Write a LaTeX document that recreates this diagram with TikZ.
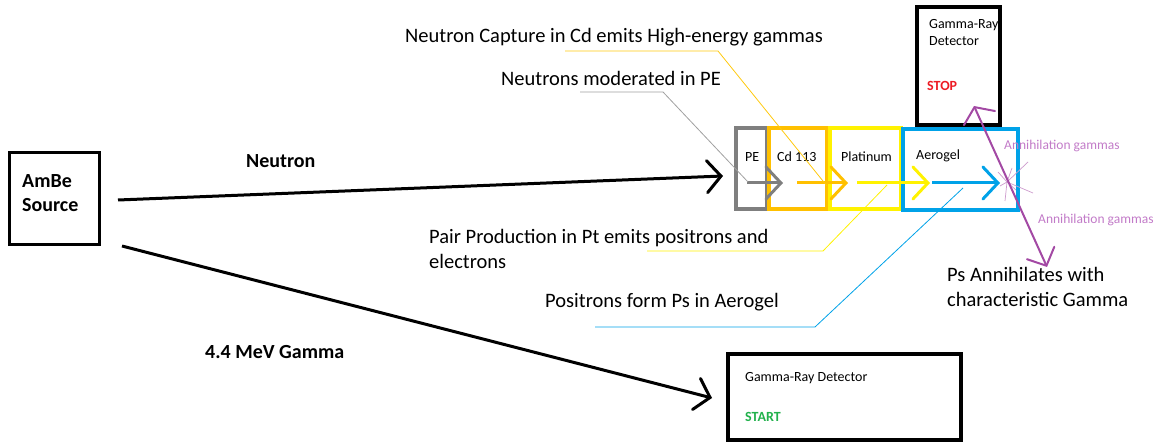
\documentclass[tikz,border=0pt]{standalone}
\usepackage{fontspec}
\setmainfont{Carlito}
\usetikzlibrary{arrows.meta}
\definecolor{pegray}{HTML}{7F7F7F}
\definecolor{cdorange}{HTML}{FFC000}
\definecolor{ptyellow}{HTML}{FFF200}
\definecolor{aeroblue}{HTML}{00A2E8}
\definecolor{psviolet}{HTML}{A349A4}
\definecolor{annviolet}{HTML}{C27BC8}
\definecolor{stopred}{HTML}{ED1C24}
\definecolor{startgreen}{HTML}{22B14C}
\definecolor{leadgray}{HTML}{A0A0A0}
\definecolor{leadorange}{HTML}{FFC90E}
\tikzset{
  boxnode/.style={draw, rectangle, inner sep=0pt, outer sep=0pt},
  bigtext/.style={inner sep=0pt, anchor=west, font=\fontsize{20.5}{25}\selectfont, align=left},
  boldtext/.style={inner sep=0pt, anchor=west, font=\fontsize{20}{24}\selectfont\bfseries, align=left},
  smalltext/.style={inner sep=0pt, anchor=west, font=\fontsize{14}{17}\selectfont, align=left},
  anntext/.style={inner sep=0pt, anchor=west, font=\fontsize{13.5}{16}\selectfont, text=annviolet},
  bigarrow/.style={line width=3pt, -{Straight Barb[length=14pt, width=32pt, line cap=round]}},
  innerarrow/.style={line width=3pt, -{Straight Barb[length=15pt, width=32pt, line cap=round]}},
  leader/.style={line width=0.8pt},
  ray/.style={psviolet!55, line width=0.7pt}
}
\begin{document}
\begin{tikzpicture}[x=1pt,y=-1pt]
\useasboundingbox (0,0) rectangle (1160,443);

% source
\node[boxnode, line width=3pt, minimum width=90pt, minimum height=92pt] (src) at (54,199) {};
\node[boldtext] (srctext) at (22,193) {AmBe\\Source};

% layer boxes
\node[boxnode, draw=pegray, line width=3.5pt, minimum width=31pt, minimum height=81pt] (pe) at (751.5,168.5) {};
\node[boxnode, draw=cdorange, line width=3.5pt, minimum width=58pt, minimum height=81pt] (cd) at (798,168.5) {};
\node[boxnode, draw=ptyellow, line width=3.5pt, minimum width=71pt, minimum height=81pt] (pt) at (865.5,168.5) {};
\node[boxnode, draw=aeroblue, line width=3.5pt, minimum width=115pt, minimum height=81pt] (aero) at (960.5,169.5) {};

\node[smalltext] (pelbl) at (745,157) {PE};
\node[smalltext] (cdlbl) at (777,157) {Cd 113};
\node[smalltext] (ptlbl) at (841,157) {Platinum};
\node[smalltext] (aerolbl) at (916,156) {Aerogel};

% detectors
\node[boxnode, line width=4pt, minimum width=83pt, minimum height=118pt] (stopdet) at (958.5,66) {};
\node[smalltext] (stoptext) at (929,32.5) {Gamma-Ray\\Detector};
\node[smalltext, font=\fontsize{14}{17}\selectfont\bfseries, text=stopred] (stoplbl) at (927,86) {STOP};

\node[boxnode, line width=4pt, minimum width=233pt, minimum height=86pt] (startdet) at (844.5,397) {};
\node[smalltext] (starttext) at (745,378) {Gamma-Ray Detector};
\node[smalltext, font=\fontsize{14}{17}\selectfont\bfseries, text=startgreen] (startlbl) at (745,417) {START};

% main arrows
\coordinate (nstart) at (118,200);
\coordinate (nend) at (723,176);
\coordinate (gstart) at (122,246);
\coordinate (gend) at (712,398);
\draw[bigarrow] (nstart) -- (nend);
\draw[bigarrow] (gstart) -- (gend);
\node[boldtext] (neutronlbl) at (246,161) {Neutron};
\node[boldtext] (gammalbl) at (205,352) {4.4 MeV Gamma};

% inner arrows
\coordinate (a1) at (747,183); \coordinate (a2) at (783,183);
\coordinate (b1) at (797,183); \coordinate (b2) at (848,183);
\coordinate (c1) at (857,183); \coordinate (c2) at (930,183);
\coordinate (d1) at (932,183); \coordinate (d2) at (1000,183);
\draw[innerarrow, draw=pegray] (a1) -- (a2);
\draw[innerarrow, draw=cdorange] (b1) -- (b2);
\draw[innerarrow, draw=ptyellow] (c1) -- (c2);
\draw[innerarrow, draw=aeroblue] (d1) -- (d2);

% annihilation
\coordinate (burst) at (1007,182);
\draw[ray] (burst) -- (1028,162);
\draw[ray] (burst) -- (1033,193);
\draw[ray] (burst) -- (1005,201);
\draw[ray] (burst) -- (1012,168);
\draw[ray] (burst) -- (998,172);
\draw[ray] (burst) -- (1016,190);
\draw[ray] (burst) -- (1000,186);
\coordinate (ptop) at (974,106);
\coordinate (pbot) at (1047,267);
\draw[line width=2pt, psviolet, {Straight Barb[length=12pt, width=34pt, line cap=round]}-{Straight Barb[length=14pt, width=30pt, line cap=round]}] (ptop) -- (pbot);
\node[anntext] (ann1) at (1004,146) {Annihilation gammas};
\node[anntext] (ann2) at (1038,220) {Annihilation gammas};
\node[bigtext] (pstext) at (947,286.5) {Ps Annihilates with\\characteristic Gamma};

% callouts
\node[bigtext] (capt) at (405,37) {Neutron Capture in Cd emits High-energy gammas};
\node[bigtext] (modt) at (501,78) {Neutrons moderated in PE};
\node[bigtext] (pairt) at (429,248.5) {Pair Production in Pt emits positrons and\\electrons};
\node[bigtext] (post) at (545,302) {Positrons form Ps in Aerogel};

\coordinate (co1) at (565,51); \coordinate (co2) at (718,51); \coordinate (co3) at (827,186);
\draw[leader, leadorange] (co1) -- (co2) -- (co3);
\coordinate (mo1) at (580,92); \coordinate (mo2) at (663,92); \coordinate (mo3) at (748,182);
\draw[leader, leadgray] (mo1) -- (mo2) -- (mo3);
\coordinate (pa1) at (647,251); \coordinate (pa2) at (823,251); \coordinate (pa3) at (887,185);
\draw[leader, ptyellow] (pa1) -- (pa2) -- (pa3);
\coordinate (po1) at (595,327); \coordinate (po2) at (815,327); \coordinate (po3) at (963,188);
\draw[leader, aeroblue] (po1) -- (po2) -- (po3);
\end{tikzpicture}
\end{document}
